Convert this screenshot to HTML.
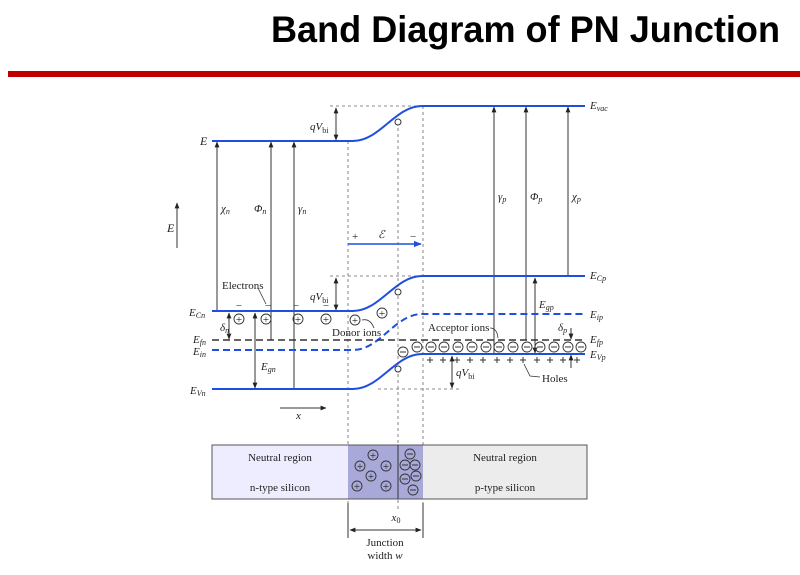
<!DOCTYPE html>
<html><head><meta charset="utf-8"><style>
body{margin:0;background:#fff;width:800px;height:575px;overflow:hidden}
svg{display:block}
.t{font-family:"Liberation Serif",serif;font-size:11px;fill:#222}
.i{font-style:italic}
</style></head><body>
<svg width="800" height="575" viewBox="0 0 800 575" xmlns="http://www.w3.org/2000/svg">
<defs>
<marker id="a" viewBox="0 0 10 10" refX="9" refY="5" markerWidth="6" markerHeight="6" orient="auto-start-reverse"><path d="M0,1 L10,5 L0,9 z" fill="#222"/></marker>
<marker id="b" viewBox="0 0 10 10" refX="9" refY="5" markerWidth="5" markerHeight="5" orient="auto"><path d="M0,1 L10,5 L0,9 z" fill="#1f4fe0"/></marker>
</defs>
<text x="271" y="42" font-family="Liberation Sans,sans-serif" font-weight="bold" font-size="37" textLength="509" lengthAdjust="spacingAndGlyphs">Band Diagram of PN Junction</text>
<rect x="8" y="71" width="792" height="6" fill="#c00000"/>

<g stroke="#666" stroke-width="0.8" stroke-dasharray="3,3" fill="none">
<line x1="348" y1="141" x2="348" y2="512"/>
<line x1="398" y1="122" x2="398" y2="512"/>
<line x1="423" y1="106" x2="423" y2="512"/>
<line x1="330" y1="106" x2="422" y2="106"/>
<line x1="330" y1="276" x2="422" y2="276"/>
<line x1="378" y1="389" x2="460" y2="389"/>
</g>

<g stroke="#333" stroke-width="1" fill="none" marker-end="url(#a)">
<line x1="217" y1="311" x2="217" y2="142"/>
<line x1="271" y1="340" x2="271" y2="142"/>
<line x1="294" y1="389" x2="294" y2="142"/>
<line x1="494" y1="354" x2="494" y2="107"/>
<line x1="526" y1="340" x2="526" y2="107"/>
<line x1="568" y1="276" x2="568" y2="107"/>
<line x1="336" y1="108" x2="336" y2="140" marker-start="url(#a)"/>
<line x1="336" y1="278" x2="336" y2="310" marker-start="url(#a)"/>
<line x1="452" y1="356" x2="452" y2="388" marker-start="url(#a)"/>
<line x1="255" y1="313" x2="255" y2="388" marker-start="url(#a)"/>
<line x1="535" y1="278" x2="535" y2="353" marker-start="url(#a)"/>
<line x1="229" y1="313" x2="229" y2="339" marker-start="url(#a)"/>
<line x1="571" y1="328" x2="571" y2="339"/>
<line x1="571" y1="368" x2="571" y2="355"/>
<line x1="177" y1="248" x2="177" y2="203"/>
<line x1="280" y1="408" x2="326" y2="408"/>
</g>

<g stroke="#1f4fe0" stroke-width="2" fill="none">
<path d="M212,141 H353 C380,141 395,106 422,106 H585"/>
<path d="M212,311 H353 C380,311 395,276 422,276 H585"/>
<path d="M212,389 H353 C380,389 395,354 422,354 H585"/>
<path d="M212,350 H353 C380,350 395,314 422,314 H585" stroke-dasharray="7,4"/>
</g>
<line x1="212" y1="340" x2="585" y2="340" stroke="#333" stroke-width="1.6" stroke-dasharray="7,4"/>
<circle cx="398" cy="122" r="3" fill="#fff" stroke="#333"/>
<circle cx="398" cy="292" r="3" fill="#fff" stroke="#333"/>
<circle cx="398" cy="369" r="3" fill="#fff" stroke="#333"/>

<line x1="348" y1="244" x2="421" y2="244" stroke="#1f4fe0" stroke-width="1.6" marker-end="url(#b)"/>
<text class="t" x="352" y="240" font-size="13">+</text>
<text class="t i" x="378" y="238" font-size="12">ℰ</text>
<text class="t" x="410" y="240" font-size="13">−</text>

<g stroke="#333" fill="none" stroke-width="0.9">
<circle cx="239" cy="319" r="5"/><circle cx="266" cy="319" r="5"/><circle cx="298" cy="319" r="5"/><circle cx="326" cy="319" r="5"/><circle cx="355" cy="320" r="5"/><circle cx="382" cy="313" r="5"/>
</g>
<g class="t" font-size="10" text-anchor="middle">
<text x="239" y="323">+</text><text x="266" y="323">+</text><text x="298" y="323">+</text><text x="326" y="323">+</text><text x="355" y="324">+</text><text x="382" y="317">+</text>
<text x="239" y="309">−</text><text x="268" y="309">−</text><text x="296" y="309">−</text><text x="326" y="309">−</text>
</g>
<g stroke="#333" fill="none" stroke-width="0.9">
<circle cx="403" cy="352" r="5"/><circle cx="417" cy="347" r="5"/><circle cx="431" cy="347" r="5"/><circle cx="444" cy="347" r="5"/><circle cx="458" cy="347" r="5"/><circle cx="472" cy="347" r="5"/><circle cx="486" cy="347" r="5"/><circle cx="499" cy="347" r="5"/><circle cx="513" cy="347" r="5"/><circle cx="527" cy="347" r="5"/><circle cx="540" cy="347" r="5"/><circle cx="554" cy="347" r="5"/><circle cx="568" cy="347" r="5"/><circle cx="581" cy="347" r="5"/>
</g>
<g stroke="#333" stroke-width="1">
<path d="M400,352h6M414,347h6M428,347h6M441,347h6M455,347h6M469,347h6M483,347h6M496,347h6M510,347h6M524,347h6M537,347h6M551,347h6M565,347h6M578,347h6"/>
<path d="M427,360h6M430,357v6M440,360h6M443,357v6M454,360h6M457,357v6M467,360h6M470,357v6M480,360h6M483,357v6M494,360h6M497,357v6M507,360h6M510,357v6M520,360h6M523,357v6M534,360h6M537,357v6M547,360h6M550,357v6M560,360h6M563,357v6M574,360h6M577,357v6"/>
</g>
<g stroke="#333" fill="none" stroke-width="0.8">
<path d="M258,288 L266,304"/>
<path d="M362,320 Q370,318 374,328"/>
<path d="M490,328 Q497,328 498,338"/>
<path d="M524,364 L530,376 L540,377"/>
</g>

<g class="t">
<text class="i" x="200" y="145" font-size="12">E</text>
<text class="i" x="167" y="232" font-size="12">E</text>
<text class="i" x="221" y="212">χ<tspan font-size="8" dy="2">n</tspan></text>
<text class="i" x="254" y="212">Φ<tspan font-size="8" dy="2">n</tspan></text>
<text class="i" x="298" y="212">γ<tspan font-size="8" dy="2">n</tspan></text>
<text class="i" x="498" y="200">γ<tspan font-size="8" dy="2">p</tspan></text>
<text class="i" x="530" y="200">Φ<tspan font-size="8" dy="2">p</tspan></text>
<text class="i" x="572" y="200">χ<tspan font-size="8" dy="2">p</tspan></text>
<text x="310" y="130"><tspan class="i">qV</tspan><tspan font-size="8" dy="3">bi</tspan></text>
<text x="310" y="300"><tspan class="i">qV</tspan><tspan font-size="8" dy="3">bi</tspan></text>
<text x="456" y="376"><tspan class="i">qV</tspan><tspan font-size="8" dy="3">bi</tspan></text>
<text x="222" y="289">Electrons</text>
<text x="332" y="336">Donor ions</text>
<text x="428" y="331">Acceptor ions</text>
<text x="542" y="382">Holes</text>
<text class="i" x="296" y="419">x</text>
<text class="i" x="189" y="316">E<tspan font-size="8" dy="2">Cn</tspan></text>
<text class="i" x="193" y="343">E<tspan font-size="8" dy="2">fn</tspan></text>
<text class="i" x="193" y="355">E<tspan font-size="8" dy="2">in</tspan></text>
<text class="i" x="190" y="394">E<tspan font-size="8" dy="2">Vn</tspan></text>
<text class="i" x="220" y="331">δ<tspan font-size="8" dy="2">n</tspan></text>
<text class="i" x="261" y="370">E<tspan font-size="8" dy="2">gn</tspan></text>
<text class="i" x="539" y="308">E<tspan font-size="8" dy="2">gp</tspan></text>
<text class="i" x="558" y="331">δ<tspan font-size="8" dy="2">p</tspan></text>
<text class="i" x="590" y="109">E<tspan font-size="8" dy="2">vac</tspan></text>
<text class="i" x="590" y="279">E<tspan font-size="8" dy="2">Cp</tspan></text>
<text class="i" x="590" y="318">E<tspan font-size="8" dy="2">ip</tspan></text>
<text class="i" x="590" y="343">E<tspan font-size="8" dy="2">fp</tspan></text>
<text class="i" x="590" y="358">E<tspan font-size="8" dy="2">Vp</tspan></text>
</g>

<rect x="212" y="445" width="136" height="54" fill="#ededff"/>
<rect x="348" y="445" width="75" height="54" fill="#a9a9d9"/>
<rect x="423" y="445" width="164" height="54" fill="#ececec"/>
<rect x="212" y="445" width="375" height="54" fill="none" stroke="#555" stroke-width="1"/>
<line x1="398" y1="445" x2="398" y2="499" stroke="#333"/>
<g stroke="#333" fill="none" stroke-width="0.9">
<circle cx="373" cy="455" r="5"/><circle cx="360" cy="466" r="5"/><circle cx="386" cy="466" r="5"/><circle cx="371" cy="476" r="5"/><circle cx="357" cy="486" r="5"/><circle cx="386" cy="486" r="5"/>
<circle cx="410" cy="454" r="5"/><circle cx="405" cy="465" r="5"/><circle cx="415" cy="465" r="5"/><circle cx="405" cy="479" r="5"/><circle cx="416" cy="476" r="5"/><circle cx="413" cy="490" r="5"/>
<path d="M407,454h6M402,465h6M412,465h6M402,479h6M413,476h6M410,490h6"/>
</g>
<g class="t" font-size="10" text-anchor="middle">
<text x="373" y="459">+</text><text x="360" y="470">+</text><text x="386" y="470">+</text><text x="371" y="480">+</text><text x="357" y="490">+</text><text x="386" y="490">+</text>
</g>
<g class="t" text-anchor="middle">
<text x="280" y="461">Neutral region</text>
<text x="280" y="491">n-type silicon</text>
<text x="505" y="461">Neutral region</text>
<text x="505" y="491">p-type silicon</text>
<text class="i" x="396" y="521">x<tspan font-size="8" dy="2" font-style="normal">0</tspan></text>
<text x="385" y="546">Junction</text>
<text x="385" y="559">width <tspan class="i">w</tspan></text>
</g>
<line x1="348" y1="503" x2="348" y2="538" stroke="#333"/>
<line x1="423" y1="503" x2="423" y2="538" stroke="#333"/>
<line x1="350" y1="530" x2="421" y2="530" stroke="#333" marker-end="url(#a)" marker-start="url(#a)"/>
</svg>
</body></html>
